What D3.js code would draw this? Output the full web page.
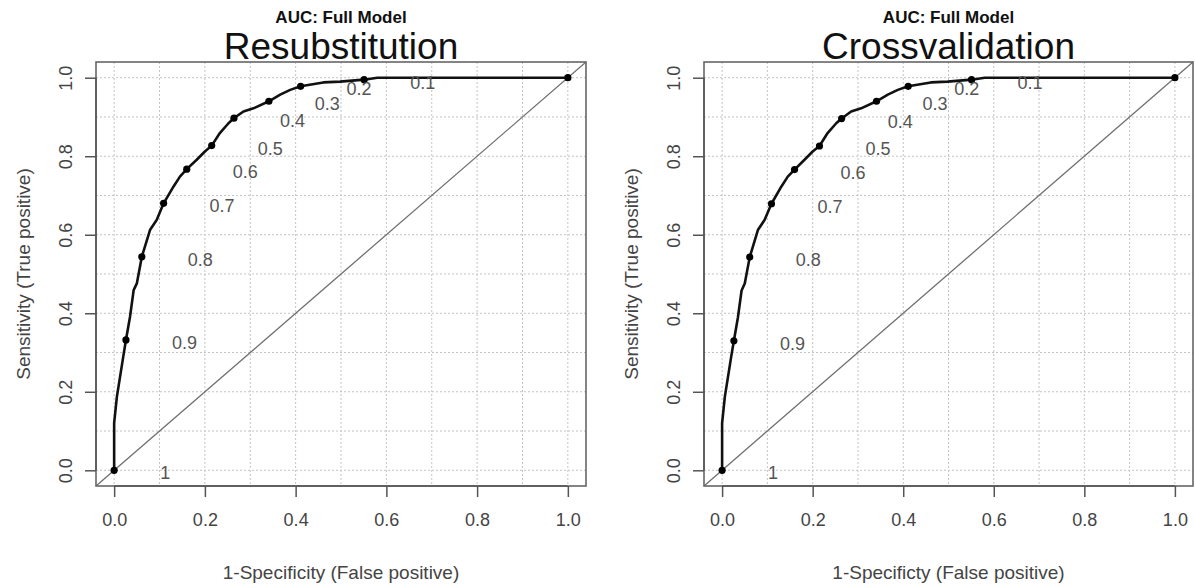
<!DOCTYPE html>
<html>
<head>
<meta charset="utf-8">
<script src="https://cdn.jsdelivr.net/npm/d3@7"></script>
<style>
  html, body { margin: 0; padding: 0; background: #fff; }
  svg { display: block; font-family: "Liberation Sans", Arial, sans-serif; }
</style>
</head>
<body>
<svg id="chart" width="1195" height="585"></svg>
<script>
// ---------- data ----------
const panelTitles = ["Resubstitution", "Crossvalidation"];
const mainTitle = "AUC: Full Model";
const xAxisTitles = ["1-Specificity (False positive)", "1-Specificty (False positive)"];
const yAxisTitle = "Sensitivity (True positive)";
const tickValues = [0, 0.2, 0.4, 0.6, 0.8, 1.0];
const tickLabels = ["0.0", "0.2", "0.4", "0.6", "0.8", "1.0"];
const gridValues = [0, 0.1, 0.2, 0.3, 0.4, 0.5, 0.6, 0.7, 0.8, 0.9, 1.0];

// ROC curve, resubstitution
const resubFPR = [0, 0, 0.006, 0.013, 0.020, 0.026, 0.035, 0.043, 0.050, 0.061, 0.079, 0.094, 0.109, 0.131, 0.145, 0.160, 0.182, 0.200, 0.215, 0.233, 0.252, 0.264, 0.285, 0.307, 0.341, 0.366, 0.388, 0.411, 0.461, 0.498, 0.551, 0.580, 1.0];
const resubTPR = [0, 0.120, 0.187, 0.238, 0.289, 0.332, 0.391, 0.459, 0.476, 0.544, 0.612, 0.638, 0.680, 0.723, 0.748, 0.767, 0.791, 0.812, 0.827, 0.859, 0.884, 0.897, 0.914, 0.922, 0.940, 0.957, 0.969, 0.978, 0.988, 0.990, 0.995, 1.0, 1.0];
// ROC curve, crossvalidation
const cvFPR = [0, 0, 0.006, 0.013, 0.020, 0.026, 0.035, 0.043, 0.050, 0.061, 0.079, 0.094, 0.109, 0.131, 0.145, 0.160, 0.182, 0.200, 0.215, 0.233, 0.252, 0.264, 0.285, 0.307, 0.341, 0.366, 0.388, 0.411, 0.461, 0.498, 0.551, 0.580, 1.0];
const cvTPR = [0, 0.120, 0.187, 0.238, 0.289, 0.330, 0.390, 0.458, 0.476, 0.543, 0.612, 0.638, 0.679, 0.723, 0.748, 0.766, 0.791, 0.812, 0.826, 0.859, 0.884, 0.896, 0.914, 0.922, 0.940, 0.957, 0.969, 0.978, 0.988, 0.990, 0.995, 1.0, 1.0];

// cutoff markers
const cutoffLabels = ["1", "0.9", "0.8", "0.7", "0.6", "0.5", "0.4", "0.3", "0.2", "0.1", ""];
const resubCutFPR = [0, 0.026, 0.061, 0.109, 0.160, 0.215, 0.264, 0.341, 0.411, 0.551, 1.0];
const resubCutTPR = [0, 0.332, 0.544, 0.680, 0.767, 0.827, 0.897, 0.940, 0.978, 0.995, 1.0];
const cvCutFPR = [0, 0.026, 0.061, 0.109, 0.160, 0.215, 0.264, 0.341, 0.411, 0.551, 1.0];
const cvCutTPR = [0, 0.330, 0.543, 0.679, 0.766, 0.826, 0.896, 0.940, 0.978, 0.995, 1.0];

const panels = [
  { title: panelTitles[0], xTitle: xAxisTitles[0], fpr: resubFPR, tpr: resubTPR, cf: resubCutFPR, ct: resubCutTPR, left: 96, right: 586 },
  { title: panelTitles[1], xTitle: xAxisTitles[1], fpr: cvFPR, tpr: cvTPR, cf: cvCutFPR, ct: cvCutTPR, left: 704, right: 1193 }
];

const svg = d3.select("#chart");
const plotTop = 62, plotBottom = 486;

panels.forEach(p => {
  const x = d3.scaleLinear().domain([-0.04, 1.04]).range([p.left, p.right]);
  const y = d3.scaleLinear().domain([-0.04, 1.04]).range([plotBottom, plotTop]);
  const g = svg.append("g");
  const cx = (p.left + p.right) / 2;

  // grid
  g.selectAll(".vg").data(gridValues).join("line")
    .attr("x1", d => x(d)).attr("x2", d => x(d))
    .attr("y1", plotTop).attr("y2", plotBottom)
    .attr("stroke", "#c4c4c4").attr("stroke-width", 1).attr("stroke-dasharray", "2,2");
  g.selectAll(".hg").data(gridValues).join("line")
    .attr("y1", d => y(d)).attr("y2", d => y(d))
    .attr("x1", p.left).attr("x2", p.right)
    .attr("stroke", "#c4c4c4").attr("stroke-width", 1).attr("stroke-dasharray", "2,2");

  // diagonal reference (abline 0,1)
  g.append("line")
    .attr("x1", x(-0.04)).attr("y1", y(-0.04))
    .attr("x2", x(1.04)).attr("y2", y(1.04))
    .attr("stroke", "#707070").attr("stroke-width", 1.3);

  // frame
  g.append("rect")
    .attr("x", p.left).attr("y", plotTop)
    .attr("width", p.right - p.left).attr("height", plotBottom - plotTop)
    .attr("fill", "none").attr("stroke", "#666").attr("stroke-width", 1.6);

  // axes
  const xAxis = d3.axisBottom(x).tickValues(tickValues).tickFormat((d, i) => tickLabels[i]).tickSize(11).tickPadding(16);
  const xg = g.append("g").attr("transform", `translate(0,${plotBottom})`).call(xAxis);
  xg.select(".domain").attr("d", `M${x(0)},0H${x(1)}`).attr("stroke", "#555").attr("stroke-width", 1.5);
  xg.selectAll(".tick line").attr("stroke", "#555").attr("stroke-width", 1.5);
  xg.selectAll(".tick text").attr("font-size", 18).attr("fill", "#444").attr("font-family", "Liberation Sans, Arial, sans-serif");

  const yAxis = d3.axisLeft(y).tickValues(tickValues).tickFormat((d, i) => tickLabels[i]).tickSize(11).tickPadding(0);
  const yg = g.append("g").attr("transform", `translate(${p.left},0)`).call(yAxis);
  yg.select(".domain").attr("d", `M0,${y(0)}V${y(1)}`).attr("stroke", "#555").attr("stroke-width", 1.5);
  yg.selectAll(".tick line").attr("stroke", "#555").attr("stroke-width", 1.5);
  yg.selectAll(".tick text")
    .attr("font-size", 18).attr("fill", "#444").attr("font-family", "Liberation Sans, Arial, sans-serif")
    .attr("x", null).attr("dy", null)
    .attr("text-anchor", "middle")
    .attr("transform", "translate(-24,0) rotate(-90)");

  // ROC curve
  const pts = p.fpr.map((v, i) => [v, p.tpr[i]]);
  g.append("path")
    .attr("d", d3.line().x(d => x(d[0])).y(d => y(d[1]))(pts))
    .attr("fill", "none").attr("stroke", "#111").attr("stroke-width", 2.6).attr("stroke-linejoin", "round");

  // cutoff points
  const cuts = p.cf.map((v, i) => ({ fx: v, ty: p.ct[i], label: cutoffLabels[i] }));
  g.selectAll(".cut").data(cuts).join("circle")
    .attr("cx", d => x(d.fx)).attr("cy", d => y(d.ty)).attr("r", 3.6).attr("fill", "#000");
  g.selectAll(".cutlab").data(cuts.filter(d => d.label)).join("text")
    .attr("x", d => x(d.fx) + 46).attr("y", d => y(d.ty) + 9)
    .attr("font-size", 18).attr("fill", "#555").text(d => d.label);

  // titles
  g.append("text").attr("x", cx).attr("y", 23).attr("text-anchor", "middle")
    .attr("font-size", 17).attr("font-weight", "bold").attr("fill", "#111").text(mainTitle);
  g.append("text").attr("x", cx).attr("y", 59).attr("text-anchor", "middle")
    .attr("font-size", 37).attr("fill", "#111").text(p.title);

  // axis titles
  g.append("text").attr("x", cx).attr("y", 579).attr("text-anchor", "middle")
    .attr("font-size", 19).attr("fill", "#444").text(p.xTitle);
  g.append("text").attr("transform", `translate(${p.left - 66},${(plotTop + plotBottom) / 2}) rotate(-90)`)
    .attr("text-anchor", "middle").attr("font-size", 19).attr("fill", "#444").text(yAxisTitle);
});
</script>
</body>
</html>
